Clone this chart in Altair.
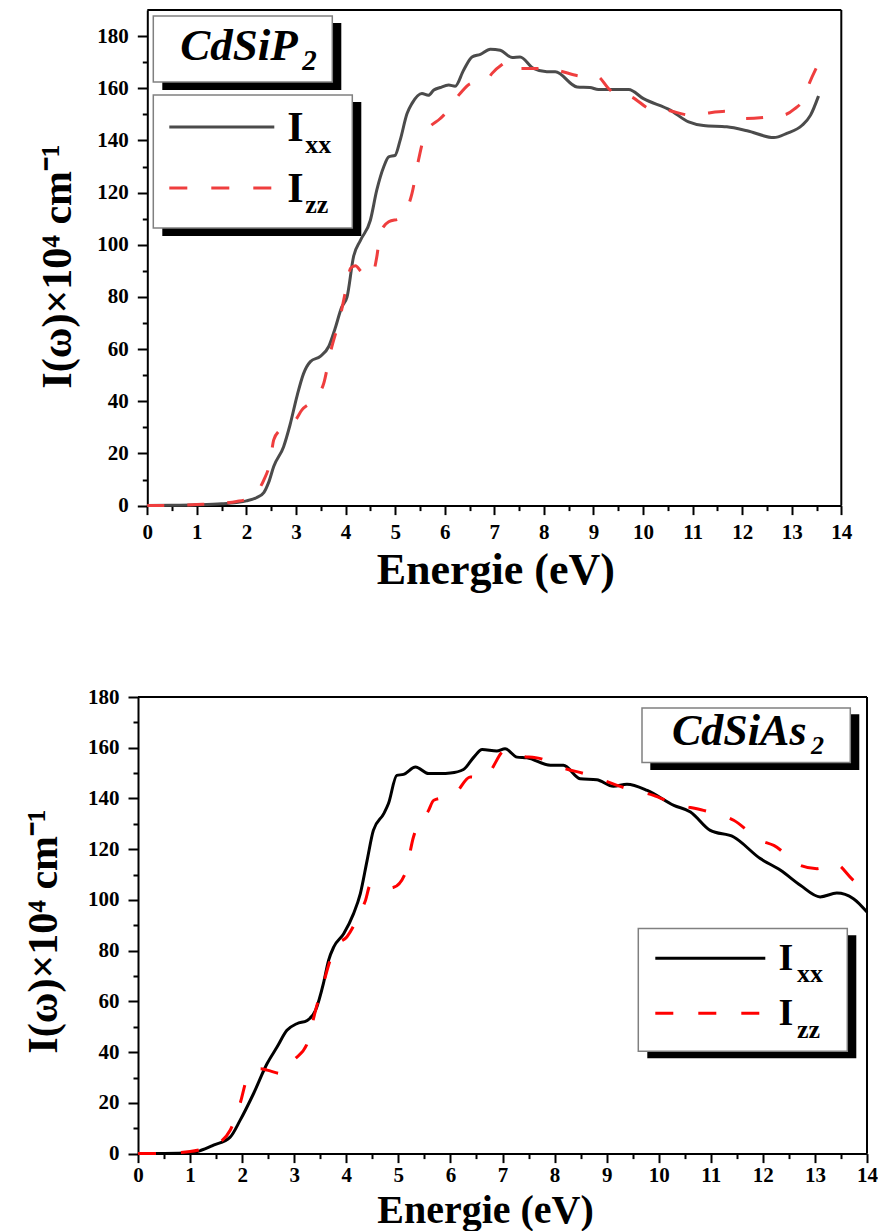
import altair as alt
import pandas as pd

# ---------------- data ----------------
ENERGY_TICKS = [i * 0.5 for i in range(29)]          # 0 .. 14 step 0.5
Y_TICKS = list(range(0, 190, 10))                     # 0 .. 180 step 10

# CdSiP2
P_XX_E = [0, 0.5, 1.0, 1.5, 1.8, 2.0, 2.2, 2.35, 2.45, 2.55, 2.75, 2.88, 3.02, 3.15, 3.29, 3.49,
          3.66, 3.79, 3.92, 4.03, 4.16, 4.30, 4.50, 4.63, 4.77, 4.87, 5.0, 5.10, 5.24, 5.34, 5.54,
          5.67, 5.78, 5.91, 6.08, 6.21, 6.38, 6.55, 6.72, 6.92, 7.12, 7.36, 7.52, 7.79, 8.06, 8.23,
          8.67, 8.93, 9.1, 9.71, 10.01, 10.55, 10.92, 11.22, 11.69, 12.1, 12.64, 12.9, 13.21,
          13.38, 13.54]
P_XX_V = [0, 0.1, 0.3, 0.7, 1.2, 1.8, 3.0, 5.0, 9, 15, 22.6, 31, 42, 50.5, 55.2, 57.2,
          61, 68, 76, 80, 95.4, 101.7, 109.4, 121, 129.9, 133.7, 134.3, 140, 150.3, 154.2, 158,
          157.3, 159.3, 160.3, 161.2, 160.8, 166.9, 172, 173, 175, 174.6, 171.8, 172, 167.6, 166.3, 166.3,
          160.5, 160.3, 159.5, 159.5, 156, 151.6, 147.1, 145.7, 145.2, 143.7, 141.1, 142.7, 145.8,
          149.7, 157]

P_ZZ_E = [0, 0.5, 1.0, 1.5, 1.8, 2.0, 2.2, 2.35, 2.48, 2.55, 2.65, 2.8, 2.99, 3.12, 3.3, 3.42,
          3.56, 3.69, 3.89, 4.03, 4.1, 4.2, 4.3, 4.43, 4.55, 4.63, 4.7, 4.87, 5.1, 5.22, 5.34, 5.47,
          5.61, 5.91, 5.98, 6.31, 6.52, 6.85, 6.95, 7.15, 7.32, 7.52, 8.0, 8.26, 8.8, 9.07, 9.3,
          9.48, 9.71, 10.18, 10.48, 10.95, 11.22, 11.69, 12.0, 12.53, 12.84, 13.05, 13.24, 13.34,
          13.54]
P_ZZ_V = [0, 0.1, 0.4, 0.9, 1.6, 2.4, 5, 9.8, 17, 25.2, 28.4, 30, 32.8, 36.7, 39.5, 41.8,
          46.9, 58.4, 72.4, 85, 91, 92, 90, 87.7, 89, 95.4, 104.4, 108.8, 110.1, 113, 119.7, 132.4,
          142.7, 148.4, 149.7, 158, 161.8, 163.1, 165.6, 169, 170.7, 167.6, 167.6, 166.9, 164.6, 164.6, 160,
          157.3, 157, 151.9, 151.6, 149.7, 150.3, 151.2, 148.4, 149, 149.7, 152, 156, 161.2,
          169.5]

# CdSiAs2
A_XX_E = [0, 0.5, 1.0, 1.2, 1.45, 1.77, 1.96, 2.22, 2.48, 2.67, 2.86, 3.05, 3.25, 3.41, 3.56,
          3.66, 3.76, 3.95, 4.14, 4.27, 4.4, 4.52, 4.72, 4.81, 4.97, 5.1, 5.33, 5.58, 5.81, 6.0,
          6.25, 6.45, 6.61, 6.89, 7.05, 7.28, 7.47, 7.92, 8.17, 8.49, 8.81, 9.13, 9.39, 9.78,
          10.29, 10.61, 10.99, 11.44, 11.95, 12.34, 12.72, 13.1, 13.42, 13.74, 14.0]
A_XX_V = [0, 0.05, 0.3, 1.2, 3.3, 6.5, 13.1, 23.7, 35.5, 42, 48.6, 51.2, 52.5, 56.5, 67,
          76.2, 81.5, 86.7, 94.6, 102.5, 115.6, 127.4, 134, 138, 149.1, 149.5, 152.4, 149.8, 149.8, 150,
          151.4, 156.3, 159.3, 158.7, 159.6, 156.3, 156, 153.1, 153.1, 147.8, 147.4, 144.8, 145.6, 143.2,
          137.3, 134.7, 127.4, 124.8, 116.3, 111.7, 105.8, 101.2, 102.7, 100.5, 95.2]

A_ZZ_E = [0, 0.5, 1.0, 1.2, 1.58, 1.77, 1.96, 2.12, 2.35, 2.48, 2.77, 2.99, 3.25, 3.41, 3.56,
          3.69, 3.82, 4.01, 4.24, 4.37, 4.46, 4.72, 4.91, 5.13, 5.29, 5.58, 5.68, 6.06, 6.38, 6.61,
          6.73, 7.05, 7.28, 7.73, 8.11, 8.62, 9.39, 9.9, 10.29, 10.86, 11.44, 11.95, 12.21, 12.72,
          13.04, 13.36, 13.74, 14.0]
A_ZZ_V = [0, 0.1, 0.8, 1.6, 4.6, 9.2, 19.7, 30.9, 33.5, 32.9, 31.5, 36.8, 43.4, 56.5, 67,
          76.2, 82.1, 85.4, 93.9, 99.9, 105.8, 104.5, 105, 110.4, 124.8, 135.3, 139.3, 141.2, 148.5, 148,
          149.8, 159, 157, 155.7, 152.4, 149.5, 143.9, 141.2, 138, 135.3, 131.4, 123.5, 121.5, 113.6,
          112.3, 114.6, 107.7, 103.1]

FONT = "Liberation Serif"
Y_TITLE = "I(ω)×10⁴ cm⁻¹"
ONE = alt.Data(values=[{}])


def x_axis(title_x, title_y, label_pad, title_size):
    return alt.Axis(
        values=ENERGY_TICKS, title="Energie (eV)",
        labelExpr="datum.value % 1 === 0 ? format(datum.value, 'd') : ''",
        tickSize=alt.ExprRef(expr="datum.value % 1 === 0 ? 9 : 5"),
        tickWidth=2, tickColor="black", domainColor="black", domainWidth=2,
        labelFont=FONT, labelFontSize=21, labelFontWeight="bold", labelColor="black",
        labelPadding=label_pad, labelFlush=False, labelOverlap=False, grid=False,
        titleFont=FONT, titleFontSize=title_size, titleFontWeight="bold", titleColor="black",
        titleBaseline="alphabetic", titleAlign="center", titleX=title_x, titleY=title_y,
    )


def y_axis(title_x, title_y, offset):
    return alt.Axis(
        values=Y_TICKS, title=Y_TITLE, offset=offset,
        labelExpr="datum.value % 20 === 0 ? format(datum.value, 'd') : ''",
        tickSize=alt.ExprRef(expr="datum.value % 20 === 0 ? 10 : 5"),
        tickWidth=2, tickColor="black", domainColor="black", domainWidth=2,
        labelFont=FONT, labelFontSize=21, labelFontWeight="bold", labelColor="black",
        labelPadding=9, labelFlush=False, labelOverlap=False, grid=False,
        titleFont=FONT, titleFontSize=42, titleFontWeight="bold", titleColor="black",
        titleBaseline="alphabetic", titleAlign="center", titleAngle=270,
        titleX=title_x, titleY=title_y,
    )


def curve(E, V, color, width, dash, xscale, yscale, xax, yax):
    df = pd.DataFrame({"E": E, "V": V})
    kw = dict(color=color, strokeWidth=width, interpolate="monotone")
    if dash:
        kw["strokeDash"] = dash
    return alt.Chart(df).mark_line(**kw).encode(
        x=alt.X("E:Q", scale=xscale, axis=xax),
        y=alt.Y("V:Q", scale=yscale, axis=yax),
    )


def rect(x1, x2, y1, y2, fill, stroke=None, sw=0):
    kw = dict(fill=fill)
    if stroke:
        kw.update(stroke=stroke, strokeWidth=sw)
    return alt.Chart(ONE).mark_rect(**kw).encode(
        x=alt.value(x1), x2=alt.value(x2), y=alt.value(y1), y2=alt.value(y2))


def text(t, x, y, size, italic=False):
    kw = dict(text=t, font=FONT, fontSize=size, fontWeight="bold", align="left",
              baseline="alphabetic", color="black")
    if italic:
        kw["fontStyle"] = "italic"
    return alt.Chart(ONE).mark_text(**kw).encode(x=alt.value(x), y=alt.value(y))


def hrule(x1, x2, y, color, width, dash=None):
    kw = dict(color=color, strokeWidth=width)
    if dash:
        kw["strokeDash"] = dash
    return alt.Chart(ONE).mark_rule(**kw).encode(x=alt.value(x1), x2=alt.value(x2), y=alt.value(y))


def vrule(x, y1, y2, color, width):
    return alt.Chart(ONE).mark_rule(color=color, strokeWidth=width).encode(
        x=alt.value(x), y=alt.value(y1), y2=alt.value(y2))


def spacer(x, y1, y2):
    return alt.Chart(ONE).mark_rule(strokeOpacity=0, strokeWidth=0.01).encode(
        x=alt.value(x), y=alt.value(y1), y2=alt.value(y2))


# ---------------- top panel : CdSiP2 ----------------
# group origin at x=137.7 (shared with the bottom panel); its plot starts 9.3 px further right
GRAY = "#4b4b4b"
RED1 = "#ef3e3e"
D = 9.3
W1, H1 = 703.3, 495.6
xs1 = alt.Scale(domain=[0, 14], range=[D, W1], nice=False, zero=False)
ys1 = alt.Scale(domain=[0, 190], nice=False, zero=False)
xa = x_axis(357.3, 77.6, 7, 44)
ya = y_axis(-77, 256, -D)
top = alt.layer(
    curve(P_XX_E, P_XX_V, GRAY, 3, None, xs1, ys1, xa, ya),
    curve(P_ZZ_E, P_ZZ_V, RED1, 3, [17, 23], xs1, ys1, xa, ya),
    hrule(D, W1, 0, "black", 2),
    vrule(W1, 0, H1, "black", 2),
    rect(D + 15, D + 194, 13, 80, "black"),
    rect(D + 6, D + 185, 6, 72, "white", "#808080", 1.5),
    text("CdSiP", D + 33, 50, 45, italic=True),
    text("2", D + 155, 60, 29, italic=True),
    rect(D + 15, D + 214, 92, 226, "black"),
    rect(D + 6, D + 205, 85, 218, "white", "#808080", 1.5),
    hrule(D + 22, D + 127, 117, GRAY, 3),
    hrule(D + 22, D + 127, 178, RED1, 3, [18, 24]),
    text("I", D + 140, 130.7, 42),
    text("xx", D + 158, 143.3, 26),
    text("I", D + 140, 191.7, 42),
    text("zz", D + 158, 202.7, 26),
    spacer(-137.7, -10, 630),
).properties(width=W1, height=H1)

# ---------------- bottom panel : CdSiAs2 ----------------
RED2 = "#ff0000"
W2, H2 = 729, 456.6
xs2 = alt.Scale(domain=[0, 14], nice=False, zero=False)
ys2 = alt.Scale(domain=[0, 180], nice=False, zero=False)
xb = x_axis(347, 69, 2, 40)
yb = y_axis(-81.7, 234, 0)
bottom = alt.layer(
    curve(A_XX_E, A_XX_V, "black", 3, None, xs2, ys2, xb, yb),
    curve(A_ZZ_E, A_ZZ_V, RED2, 3, [18, 25], xs2, ys2, xb, yb),
    hrule(0, W2, 0, "black", 2),
    vrule(W2, 0, H2, "black", 2),
    rect(512.3, 721.3, 17.3, 73, "black"),
    rect(504, 712.3, 11, 65.5, "white", "#808080", 1.5),
    text("CdSiAs", 534, 48.3, 44, italic=True),
    text("2", 673, 56.6, 26, italic=True),
    rect(509.3, 718.3, 238.3, 361.3, "black"),
    rect(500.3, 709.3, 231.6, 354.3, "white", "#808080", 1.5),
    hrule(517.3, 627.3, 261.3, "black", 3),
    hrule(517.3, 627.3, 316.3, RED2, 3, [18, 25]),
    text("I", 640.6, 273.3, 38),
    text("xx", 659, 285, 26),
    text("I", 640.6, 328.3, 38),
    text("zz", 659, 340.6, 26),
    spacer(-137.7, -56.7, 0),
).properties(width=W2, height=H2)

chart = alt.vconcat(top, bottom, spacing=0).properties(
    padding={"left": 0, "top": 0, "right": 0, "bottom": 0},
    background="white",
).configure_view(strokeWidth=0, stroke="transparent")

chart.save("out.html", embed_options={"renderer": "svg", "actions": False})
